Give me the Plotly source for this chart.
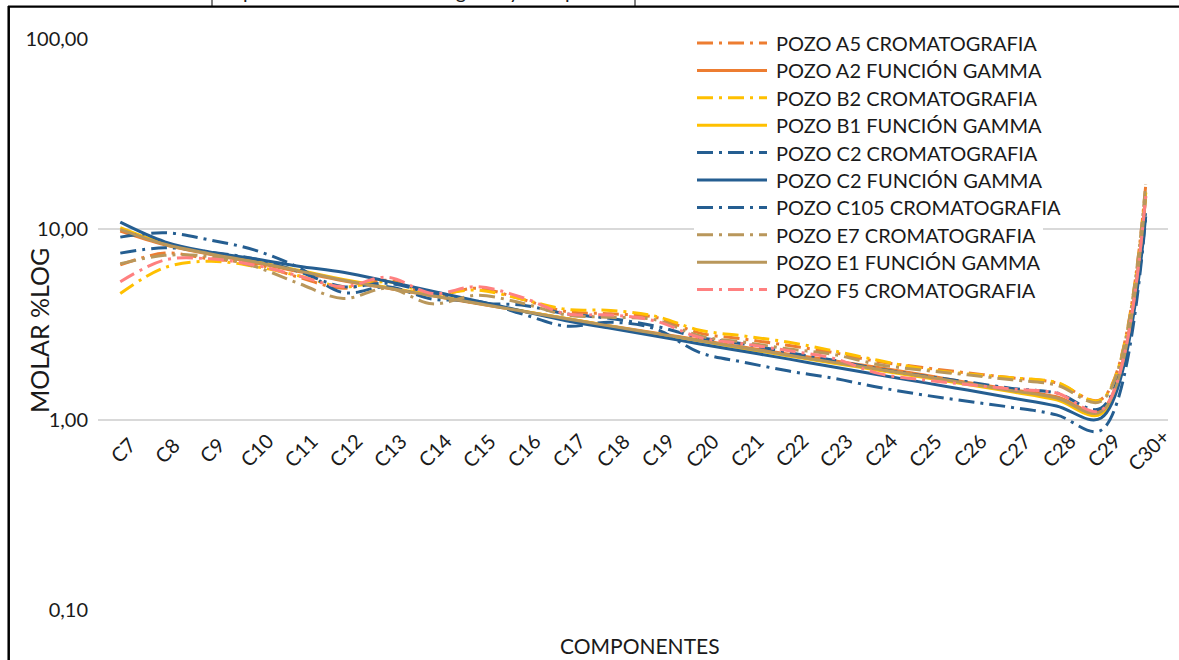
import plotly.graph_objects as go

# Carbon-number fractions on the horizontal axis
categories = ["C7", "C8", "C9", "C10", "C11", "C12", "C13", "C14", "C15", "C16",
              "C17", "C18", "C19", "C20", "C21", "C22", "C23", "C24", "C25", "C26",
              "C27", "C28", "C29", "C30+"]

# Molar composition (%) per well
a5_crom = [6.5, 7.5, 7.0, 6.6, 5.6, 4.9, 5.4, 4.5, 4.9, 4.3, 3.7, 3.6, 3.45, 2.85,
           2.65, 2.45, 2.25, 2.02, 1.88, 1.76, 1.66, 1.56, 1.28, 17.0]
a2_gamma = [9.8, 8.3, 7.4, 6.7, 6.0, 5.37, 4.9, 4.47, 4.08, 3.72, 3.4, 3.11, 2.85,
            2.62, 2.4, 2.21, 2.04, 1.88, 1.72, 1.57, 1.44, 1.32, 1.12, 14.8]
b2_crom = [4.6, 6.3, 6.8, 6.4, 5.7, 5.0, 5.3, 4.6, 4.8, 4.3, 3.8, 3.75, 3.5, 2.95,
           2.75, 2.55, 2.3, 2.05, 1.85, 1.74, 1.66, 1.57, 1.27, 15.6]
b1_gamma = [10.2, 8.4, 7.5, 6.8, 6.1, 5.45, 4.95, 4.5, 4.1, 3.73, 3.4, 3.1, 2.83,
            2.59, 2.36, 2.16, 1.98, 1.82, 1.67, 1.53, 1.4, 1.27, 1.07, 15.6]
c2_crom = [7.5, 8.0, 7.6, 7.0, 6.0, 5.0, 5.2, 4.6, 4.1, 4.0, 3.6, 3.4, 3.1, 2.7,
           2.5, 2.25, 2.05, 1.85, 1.7, 1.58, 1.46, 1.38, 1.15, 12.5]
c2_gamma = [10.9, 8.6, 7.6, 7.0, 6.4, 5.95, 5.33, 4.73, 4.2, 3.73, 3.31, 3.02, 2.75,
            2.5, 2.28, 2.08, 1.89, 1.72, 1.57, 1.43, 1.3, 1.18, 1.02, 11.7]
c105_crom = [9.1, 9.6, 8.8, 7.8, 6.3, 4.65, 5.0, 4.3, 4.2, 3.6, 3.1, 3.25, 3.0, 2.25,
             2.0, 1.8, 1.65, 1.48, 1.35, 1.25, 1.16, 1.06, 0.88, 11.5]
e7_crom = [6.6, 7.3, 7.2, 6.4, 5.2, 4.33, 4.9, 4.06, 4.5, 4.1, 3.55, 3.45, 3.35, 2.75,
           2.55, 2.35, 2.2, 1.95, 1.82, 1.72, 1.62, 1.52, 1.25, 17.2]
e1_gamma = [10.0, 8.35, 7.45, 6.75, 6.05, 5.4, 4.92, 4.48, 4.09, 3.72, 3.39, 3.1,
            2.84, 2.6, 2.38, 2.18, 2.0, 1.84, 1.69, 1.55, 1.42, 1.3, 1.1, 15.0]
f5_crom = [5.3, 6.9, 7.0, 6.5, 5.7, 5.0, 5.6, 4.6, 5.0, 4.4, 3.6, 3.55, 3.3, 2.7,
           2.5, 2.3, 2.1, 1.75, 1.62, 1.53, 1.45, 1.38, 1.12, 15.0]

ORANGE = "#ED7D31"
GOLD = "#FFC000"
BLUE = "#255E91"
TAN = "#B9975B"
PINK = "#FF8080"
DASHDOT = "16px,6px,3px,6px"

series = [
    ("POZO A5 CROMATOGRAFIA", a5_crom, ORANGE, DASHDOT),
    ("POZO A2 FUNCIÓN GAMMA", a2_gamma, ORANGE, "solid"),
    ("POZO B2 CROMATOGRAFIA", b2_crom, GOLD, DASHDOT),
    ("POZO B1 FUNCIÓN GAMMA", b1_gamma, GOLD, "solid"),
    ("POZO C2 CROMATOGRAFIA", c2_crom, BLUE, DASHDOT),
    ("POZO C2 FUNCIÓN GAMMA", c2_gamma, BLUE, "solid"),
    ("POZO C105 CROMATOGRAFIA", c105_crom, BLUE, DASHDOT),
    ("POZO E7 CROMATOGRAFIA", e7_crom, TAN, DASHDOT),
    ("POZO E1 FUNCIÓN GAMMA", e1_gamma, TAN, "solid"),
    ("POZO F5 CROMATOGRAFIA", f5_crom, PINK, DASHDOT),
]

W, H = 1179, 660
L, R, T, B = 98, 1168, 39, 610
FONT = "Lato"
TXT = "#1a1a1a"


def px(x):
    return (x - L) / (R - L)


def py(y):
    return (B - y) / (B - T)


fig = go.Figure()
for name, vals, color, dash in series:
    fig.add_trace(go.Scatter(
        x=categories, y=vals, name=name, mode="lines",
        line=dict(color=color, width=3, dash=dash, shape="spline", smoothing=1),
        showlegend=False,
    ))

shapes = []
annotations = []

# white legend box over the gridlines
shapes.append(dict(type="rect", xref="paper", yref="paper",
                   x0=px(694), x1=px(1043), y0=py(303), y1=py(30),
                   fillcolor="white", line=dict(width=0), layer="above"))

# legend entries
for i, (name, vals, color, dash) in enumerate(series):
    yy = 43 + i * 27.4
    shapes.append(dict(type="line", xref="paper", yref="paper",
                       x0=px(697), x1=px(767), y0=py(yy), y1=py(yy),
                       line=dict(color=color, width=3, dash=dash), layer="above"))
    annotations.append(dict(xref="paper", yref="paper", x=px(774), y=py(yy),
                            xanchor="left", yanchor="middle", text=name,
                            showarrow=False, font=dict(family=FONT, size=20, color=TXT)))

# category labels sitting on the 1,00 line
for c in categories:
    annotations.append(dict(x=c, y=0, xref="x", yref="y", text=c, textangle=-45,
                            showarrow=False, xshift=2, yshift=-30,
                            xanchor="center", yanchor="middle",
                            font=dict(family=FONT, size=20, color=TXT)))

# axis titles
annotations.append(dict(xref="paper", yref="paper", x=px(640), y=py(645),
                        xanchor="center", yanchor="middle",
                        text="COMPONENTES", showarrow=False,
                        font=dict(family=FONT, size=21, color=TXT)))
annotations.append(dict(xref="paper", yref="paper", x=px(39), y=py(331),
                        xanchor="center", yanchor="middle",
                        text="MOLAR %LOG", textangle=-90, showarrow=False,
                        font=dict(family=FONT, size=25, color=TXT)))

# caption above the chart frame
annotations.append(dict(xref="paper", yref="paper", x=px(14), y=py(-9),
                        xanchor="left", yanchor="middle",
                        text="Gráfica 4.                    Comparación Molar Cromatografía y Composición Interna",
                        showarrow=False, font=dict(family=FONT, size=20, color=TXT)))

# chart frame and table borders
shapes.append(dict(type="line", xref="paper", yref="paper",
                   x0=px(8.7), x1=px(8.7), y0=py(6), y1=py(680),
                   line=dict(color="black", width=2.5), layer="above"))
shapes.append(dict(type="line", xref="paper", yref="paper",
                   x0=px(8), x1=px(1200), y0=py(6.6), y1=py(6.6),
                   line=dict(color="black", width=2.2), layer="above"))
for xb in (212, 635):
    shapes.append(dict(type="line", xref="paper", yref="paper",
                       x0=px(xb), x1=px(xb), y0=py(-5), y1=py(6),
                       line=dict(color="black", width=1), layer="above"))

fig.update_layout(
    width=W, height=H,
    margin=dict(l=L, r=W - R, t=T, b=H - B),
    paper_bgcolor="white", plot_bgcolor="white",
    font=dict(family=FONT, size=20, color=TXT),
    xaxis=dict(type="category", range=[-0.5, 23.5], visible=False),
    yaxis=dict(type="log", range=[-1, 2],
               tickvals=[0.1, 1, 10, 100],
               ticktext=["0,10", "1,00", "10,00", "100,00"],
               showgrid=True, gridcolor="#D9D9D9", gridwidth=1.5,
               zeroline=False, showline=False, ticks="",
               ticklabelstandoff=9,
               tickfont=dict(family=FONT, size=20, color=TXT)),
    shapes=shapes, annotations=annotations,
    showlegend=False,
)

fig.write_html("out.html")
